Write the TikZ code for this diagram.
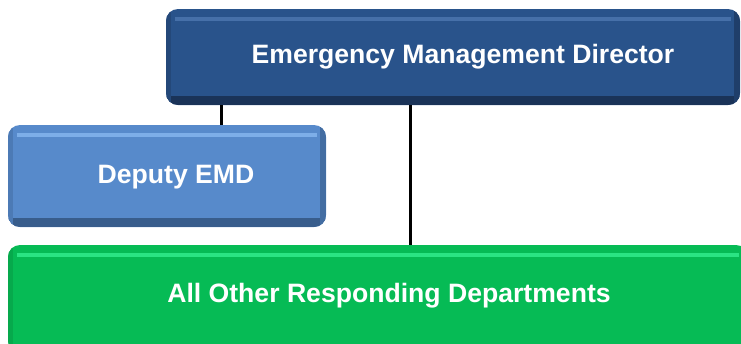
\documentclass[tikz,border=0pt]{standalone}
\usepackage{fontspec}
\setmainfont{Liberation Sans}
\usepackage{tikz}
\usetikzlibrary{positioning}
\definecolor{mdark}{HTML}{29538B}
\definecolor{mdarkhi}{HTML}{4670A9}
\definecolor{mdarklo}{HTML}{1A3358}
\definecolor{mlight}{HTML}{578ACB}
\definecolor{mlighthi}{HTML}{7DAEE8}
\definecolor{mlightlo}{HTML}{385D8C}
\definecolor{mgreen}{HTML}{06BB55}
\definecolor{mgreenhi}{HTML}{2AE483}
\definecolor{mgreenlo}{HTML}{05873C}
\tikzset{box/.style n args = {3}{rounded corners = 12, fill = #1, draw = none,
    path picture = {
      \fill [#3, sharp corners] ([yshift=9]path picture bounding box.south west) rectangle (path picture bounding box.south east);
      \fill [#3!35!#1, sharp corners] (path picture bounding box.south west) rectangle ([xshift=5]path picture bounding box.north west);
      \fill [#3!65!#1, sharp corners] ([xshift=-6]path picture bounding box.south east) rectangle (path picture bounding box.north east);
      \fill [#2, sharp corners] ([xshift=9, yshift=-8]path picture bounding box.north west) rectangle ([xshift=-9, yshift=-12]path picture bounding box.north east);
    }},
  boxtext/.style = {text = white, font = \bfseries\fontsize{26.6}{31}\selectfont, inner sep = 0, anchor = base},
  link/.style = {line width = 3}}

\begin{document}
\begin{tikzpicture}[x=1pt, y=-1pt]
          \useasboundingbox (0, 0) rectangle (741, 343);
          \clip (0, 0) rectangle (741, 343);
          \node [box={mdark}{mdarkhi}{mdarklo}, minimum width = 574, minimum height = 96] (emd) at (453, 57) {};
          \node [box={mlight}{mlighthi}{mlightlo}, minimum width = 318, minimum height = 102] (deputy) at (167, 176) {};
          \node [box={mgreen}{mgreenhi}{mgreenlo}, minimum width = 740, minimum height = 108] (depts) at (378, 299) {};

          \draw [link] (emd.south -| 221, 0) -- (deputy.north -| 221, 0);
          \draw [link] (emd.south -| 410, 0) -- (depts.north -| 410, 0);

          \node [boxtext] (emdlabel) at (463, 63) {Emergency Management Director};
          \node [boxtext] (deputylabel) at (176, 183) {Deputy EMD};
          \node [boxtext] (deptslabel) at (389, 302) {All Other Responding Departments};
        \end{tikzpicture}
\end{document}
